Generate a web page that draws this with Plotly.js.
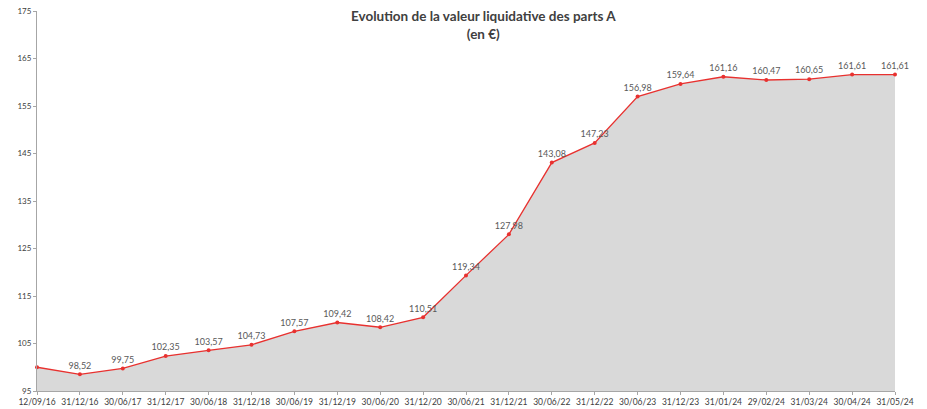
<!DOCTYPE html>
<html>
<head>
<meta charset="utf-8">
<script src="https://cdn.plot.ly/plotly-3.0.1.min.js"></script>
<style>html,body{margin:0;padding:0;background:#fff;}#chart{width:927px;height:409px;}</style>
</head>
<body>
<div id="chart"></div>
<script>
const dates = ["12/09/16","31/12/16","30/06/17","31/12/17","30/06/18","31/12/18","30/06/19","31/12/19","30/06/20","31/12/20","30/06/21","31/12/21","30/06/22","31/12/22","30/06/23","31/12/23","31/01/24","29/02/24","31/03/24","30/04/24","31/05/24"];
const navValues = [100.00,98.52,99.75,102.35,103.57,104.73,107.57,109.42,108.42,110.51,119.34,127.98,143.08,147.23,156.98,159.64,161.16,160.47,160.65,161.61,161.61];
const yTicks = [95,105,115,125,135,145,155,165,175];

const labels = navValues.map((v,i) => i === 0 ? "" : v.toFixed(2).replace(".", ","));

const fontFam = "Lato, 'DejaVu Sans', sans-serif";
const trace = {
  x: dates.map((d,i)=>i),
  y: navValues,
  type: "scatter",
  mode: "lines+markers+text",
  fill: "tozeroy",
  fillcolor: "#d9d9d9",
  line: {color: "#e8312f", width: 1.3},
  marker: {color: "#e8312f", size: 4},
  text: labels,
  textposition: "top center",
  textfont: {family: fontFam, size: 9, color: "#595959"},
  cliponaxis: false,
  hoverinfo: "skip"
};

const layout = {
  width: 927, height: 409,
  margin: {l: 37, r: 32, t: 11, b: 18},
  paper_bgcolor: "#fff", plot_bgcolor: "#fff",
  showlegend: false,
  annotations: [{
    text: "<b>Evolution de la valeur liquidative des parts A<br>(en €)</b>",
    font: {family: fontFam, size: 13.5, color: "#404040"},
    x: 0.52, xref: "paper", xanchor: "center",
    y: 1, yref: "paper", yanchor: "top", yshift: 5,
    showarrow: false, align: "center"
  }],
  xaxis: {
    range: [0, dates.length-1],
    tickmode: "array",
    tickvals: dates.map((d,i)=>i),
    ticktext: dates,
    showgrid: false, zeroline: false,
    showline: true, linecolor: "#a6a6a6", linewidth: 1,
    ticks: "outside", ticklen: 3, tickcolor: "#a6a6a6",
    tickfont: {family: fontFam, size: 8.5, color: "#404040"},
    tickangle: 0
  },
  yaxis: {
    range: [95, 175],
    tickmode: "array",
    tickvals: yTicks,
    showgrid: false, zeroline: false,
    showline: true, linecolor: "#a6a6a6", linewidth: 1,
    ticks: "outside", ticklen: 3, tickcolor: "#a6a6a6",
    tickfont: {family: fontFam, size: 8, color: "#404040"}
  }
};

Plotly.newPlot("chart", [trace], layout, {staticPlot: true, displayModeBar: false});
</script>
</body>
</html>
